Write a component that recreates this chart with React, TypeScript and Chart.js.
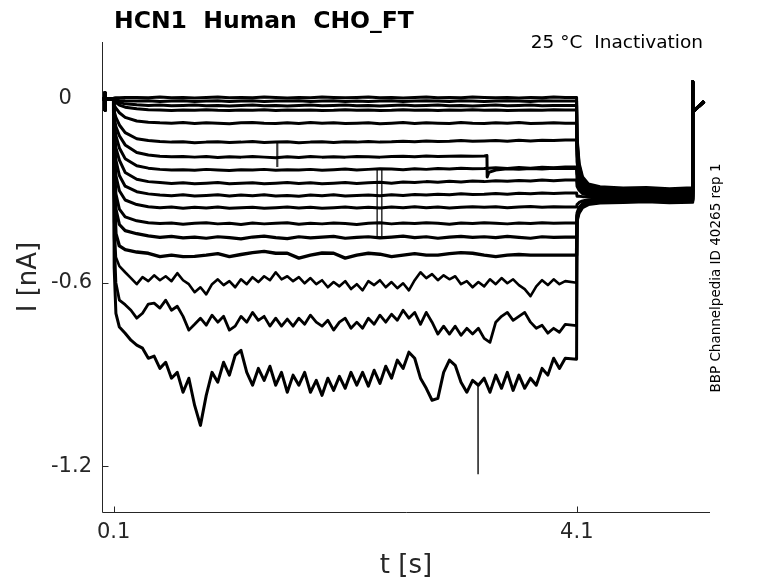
import React, { useEffect, useRef } from "react";
import { Chart, registerables } from "chart.js";

Chart.register(...registerables);

// holding segment, shared by all sweeps (s, nA)
const tHold = [0, 0.024, 0.025, 0.026, 0.027, 0.1];
const iHold = [0, 0, 0.02, -0.036, 0, 0];

// sample times for the step + tail part of every sweep
const tGrid = [
  0.1, 0.105, 0.12, 0.15, 0.2,
  0.3, 0.4, 0.5, 0.6, 0.7, 0.8, 0.9, 1.0, 1.1, 1.2,
  1.3, 1.4, 1.5, 1.6, 1.7, 1.8, 1.9, 2.0, 2.1, 2.2,
  2.3, 2.4, 2.5, 2.6, 2.7, 2.8, 2.9, 3.0, 3.1, 3.2,
  3.3, 3.4, 3.5, 3.6, 3.7, 3.8, 3.9, 4.0,
  4.098, 4.102, 4.12, 4.15, 4.2, 4.3, 4.5, 4.7, 4.9, 5.098,
];
// denser step samples for the three noisiest sweeps
const tFine = [
  0.25, 0.3, 0.35, 0.4, 0.45, 0.5, 0.55, 0.6, 0.65, 0.7,
  0.75, 0.8, 0.85, 0.9, 0.95, 1.0, 1.05, 1.1, 1.15, 1.2,
  1.25, 1.3, 1.35, 1.4, 1.45, 1.5, 1.55, 1.6, 1.65, 1.7,
  1.75, 1.8, 1.85, 1.9, 1.95, 2.0, 2.05, 2.1, 2.15, 2.2,
  2.25, 2.3, 2.35, 2.4, 2.45, 2.5, 2.55, 2.6, 2.65, 2.7,
  2.75, 2.8, 2.85, 2.9, 2.95, 3.0, 3.05, 3.1, 3.15, 3.2,
  3.25, 3.3, 3.35, 3.4, 3.45, 3.5, 3.55, 3.6, 3.65, 3.7,
  3.75, 3.8, 3.85, 3.9, 3.95, 4.0,
];
const tGridFine = [...tGrid.slice(0, 5), ...tFine, ...tGrid.slice(43)];

// end of the protocol, shared
const tEnd = [5.1, 5.1005, 5.102, 5.2];
const iEnd = [0.056, -0.045, -0.042, -0.008];

const trace01 = [
  0, 0.003, 0.004, 0.004, 0.005,
  0.005, 0.004, 0.006, 0.004, 0.005, 0.003, 0.005, 0.006, 0.004, 0.005,
  0.004, 0.006, 0.005, 0.003, 0.005, 0.004, 0.006, 0.005, 0.004, 0.005,
  0.006, 0.004, 0.005, 0.003, 0.005, 0.006, 0.004, 0.005, 0.004, 0.006,
  0.005, 0.004, 0.005, 0.003, 0.005, 0.004, 0.006, 0.005,
  0.005, -0.125, -0.21, -0.255, -0.278, -0.287, -0.291, -0.289, -0.293, -0.29,
];
const trace02 = [
  0, -0.002, -0.004, -0.005, -0.006,
  -0.007, -0.006, -0.008, -0.007, -0.006, -0.008, -0.007, -0.006, -0.008, -0.007,
  -0.006, -0.008, -0.007, -0.007, -0.006, -0.008, -0.007, -0.006, -0.008, -0.007,
  -0.008, -0.007, -0.006, -0.008, -0.007, -0.006, -0.007, -0.008, -0.006, -0.007,
  -0.008, -0.007, -0.006, -0.007, -0.008, -0.006, -0.007, -0.007,
  -0.007, -0.135, -0.218, -0.262, -0.283, -0.292, -0.296, -0.293, -0.297, -0.295,
];
const trace03 = [
  0, -0.004, -0.008, -0.012, -0.016,
  -0.019, -0.021, -0.02, -0.022, -0.021, -0.02, -0.022, -0.021, -0.023, -0.021,
  -0.02, -0.022, -0.021, -0.023, -0.021, -0.02, -0.022, -0.021, -0.02, -0.022,
  -0.021, -0.023, -0.021, -0.02, -0.022, -0.021, -0.02, -0.022, -0.021, -0.023,
  -0.021, -0.02, -0.022, -0.021, -0.02, -0.022, -0.021, -0.021,
  -0.021, -0.148, -0.228, -0.268, -0.288, -0.296, -0.3, -0.297, -0.301, -0.299,
];
const trace04 = [
  0, -0.006, -0.012, -0.02, -0.027,
  -0.032, -0.035, -0.036, -0.038, -0.036, -0.037, -0.035, -0.037, -0.038, -0.036,
  -0.037, -0.035, -0.038, -0.036, -0.037, -0.036, -0.038, -0.037, -0.035, -0.037,
  -0.036, -0.038, -0.037, -0.035, -0.037, -0.036, -0.038, -0.036, -0.037, -0.035,
  -0.037, -0.036, -0.038, -0.037, -0.036, -0.037, -0.035, -0.036,
  -0.036, -0.16, -0.236, -0.274, -0.292, -0.299, -0.303, -0.3, -0.304, -0.302,
];
const trace05 = [
  0, -0.02, -0.03, -0.045, -0.06,
  -0.072, -0.076, -0.078, -0.079, -0.077, -0.08, -0.078, -0.079, -0.081, -0.078,
  -0.077, -0.079, -0.08, -0.078, -0.08, -0.077, -0.079, -0.078, -0.08, -0.079,
  -0.078, -0.081, -0.079, -0.077, -0.08, -0.078, -0.079, -0.08, -0.077, -0.079,
  -0.08, -0.078, -0.079, -0.077, -0.08, -0.079, -0.078, -0.079,
  -0.079, -0.18, -0.248, -0.281, -0.296, -0.302, -0.306, -0.304, -0.308, -0.306,
];
const trace06 = [
  0, -0.04, -0.06, -0.085, -0.11,
  -0.13, -0.136, -0.139, -0.141, -0.14, -0.143, -0.141, -0.14, -0.142, -0.141,
  -0.139, -0.142, -0.141, -0.14, -0.143, -0.141, -0.14, -0.142, -0.14, -0.141,
  -0.139, -0.141, -0.14, -0.138, -0.14, -0.137, -0.139, -0.138, -0.136, -0.138,
  -0.137, -0.136, -0.138, -0.135, -0.137, -0.135, -0.136, -0.134,
  -0.134, -0.205, -0.26, -0.288, -0.301, -0.307, -0.31, -0.308, -0.312, -0.31,
];
const trace07 = [
  0, -0.06, -0.09, -0.12, -0.15,
  -0.175, -0.183, -0.187, -0.189, -0.188, -0.19, -0.188, -0.191, -0.189, -0.19,
  -0.188, -0.19, -0.192, -0.189, -0.191, -0.188, -0.19, -0.189, -0.19, -0.188,
  -0.189, -0.19, -0.188, -0.187, -0.189, -0.186, -0.188, -0.187, -0.186, -0.187,
  -0.186, -0.232, -0.228, -0.23, -0.227, -0.229, -0.226, -0.227,
  -0.227, -0.245, -0.272, -0.294, -0.305, -0.31, -0.313, -0.311, -0.314, -0.312,
];
const trace08 = [
  0, -0.08, -0.12, -0.16, -0.195,
  -0.218, -0.226, -0.23, -0.232, -0.231, -0.233, -0.23, -0.232, -0.234, -0.231,
  -0.232, -0.23, -0.233, -0.231, -0.232, -0.23, -0.233, -0.231, -0.229, -0.232,
  -0.23, -0.228, -0.229, -0.231, -0.228, -0.23, -0.227, -0.229, -0.226, -0.228,
  -0.227, -0.225, -0.227, -0.224, -0.226, -0.223, -0.225, -0.222,
  -0.222, -0.262, -0.287, -0.303, -0.31, -0.315, -0.318, -0.316, -0.319, -0.317,
];
const trace09 = [
  0, -0.1, -0.16, -0.2, -0.24,
  -0.262, -0.27, -0.273, -0.276, -0.274, -0.277, -0.275, -0.273, -0.277, -0.275,
  -0.274, -0.277, -0.275, -0.273, -0.276, -0.274, -0.277, -0.275, -0.273, -0.276,
  -0.274, -0.272, -0.275, -0.271, -0.273, -0.27, -0.272, -0.269, -0.271, -0.268,
  -0.27, -0.267, -0.269, -0.266, -0.268, -0.265, -0.267, -0.265,
  -0.265, -0.285, -0.298, -0.309, -0.314, -0.318, -0.32, -0.318, -0.322, -0.319,
];
const trace10 = [
  0, -0.13, -0.2, -0.25, -0.285,
  -0.303, -0.31, -0.314, -0.316, -0.313, -0.317, -0.315, -0.313, -0.317, -0.314,
  -0.316, -0.313, -0.317, -0.315, -0.318, -0.314, -0.316, -0.313, -0.317, -0.315,
  -0.314, -0.316, -0.313, -0.315, -0.312, -0.314, -0.311, -0.313, -0.31, -0.312,
  -0.311, -0.309, -0.311, -0.308, -0.31, -0.307, -0.309, -0.307,
  -0.307, -0.318, -0.318, -0.319, -0.319, -0.321, -0.323, -0.321, -0.324, -0.322,
];
const trace11 = [
  0, -0.16, -0.25, -0.3, -0.33,
  -0.345, -0.352, -0.355, -0.353, -0.357, -0.354, -0.356, -0.353, -0.357, -0.355,
  -0.354, -0.357, -0.355, -0.353, -0.356, -0.354, -0.357, -0.355, -0.353, -0.356,
  -0.354, -0.356, -0.353, -0.355, -0.352, -0.355, -0.353, -0.356, -0.354, -0.352,
  -0.354, -0.352, -0.355, -0.353, -0.351, -0.354, -0.352, -0.353,
  -0.353, -0.345, -0.338, -0.333, -0.329, -0.326, -0.325, -0.324, -0.327, -0.325,
];
const trace12 = [
  0, -0.2, -0.31, -0.36, -0.385,
  -0.398, -0.404, -0.407, -0.405, -0.409, -0.406, -0.404, -0.408, -0.406, -0.41,
  -0.405, -0.408, -0.406, -0.404, -0.409, -0.406, -0.408, -0.405, -0.407, -0.41,
  -0.406, -0.404, -0.408, -0.405, -0.407, -0.404, -0.406, -0.409, -0.405, -0.407,
  -0.404, -0.406, -0.408, -0.405, -0.407, -0.404, -0.406, -0.405,
  -0.405, -0.372, -0.354, -0.342, -0.335, -0.33, -0.328, -0.327, -0.329, -0.327,
];
const trace13 = [
  0, -0.25, -0.36, -0.41, -0.43,
  -0.44, -0.447, -0.452, -0.449, -0.454, -0.451, -0.455, -0.45, -0.453, -0.457,
  -0.451, -0.448, -0.453, -0.456, -0.45, -0.454, -0.451, -0.449, -0.455, -0.452,
  -0.45, -0.454, -0.451, -0.448, -0.453, -0.45, -0.455, -0.451, -0.449, -0.452,
  -0.45, -0.453, -0.449, -0.452, -0.455, -0.45, -0.452, -0.451,
  -0.451, -0.38, -0.358, -0.344, -0.337, -0.332, -0.33, -0.328, -0.331, -0.329,
];
const trace14 = [
  0, -0.3, -0.44, -0.48, -0.492,
  -0.5, -0.504, -0.515, -0.51, -0.515, -0.514, -0.51, -0.505, -0.515, -0.508,
  -0.502, -0.498, -0.504, -0.504, -0.52, -0.51, -0.503, -0.504, -0.52, -0.51,
  -0.504, -0.507, -0.515, -0.51, -0.505, -0.51, -0.51, -0.505, -0.502, -0.504,
  -0.51, -0.515, -0.51, -0.508, -0.51, -0.51, -0.51, -0.51,
  -0.51, -0.385, -0.363, -0.347, -0.339, -0.334, -0.332, -0.33, -0.333, -0.331,
];
// sweeps 15-17 follow tGridFine
const trace15 = [
  0, -0.4, -0.517, -0.546, -0.566,
  -0.585, -0.605, -0.582, -0.595, -0.576, -0.592, -0.579, -0.595, -0.569, -0.592,
  -0.605, -0.631, -0.615, -0.638, -0.605, -0.589, -0.608, -0.595, -0.615, -0.589,
  -0.605, -0.582, -0.598, -0.579, -0.592, -0.566, -0.589, -0.579, -0.595, -0.582,
  -0.602, -0.585, -0.605, -0.592, -0.615, -0.598, -0.612, -0.595, -0.621, -0.605,
  -0.625, -0.595, -0.608, -0.592, -0.615, -0.598, -0.618, -0.602, -0.625, -0.592,
  -0.566, -0.585, -0.572, -0.592, -0.576, -0.589, -0.579, -0.605, -0.595, -0.615,
  -0.598, -0.612, -0.589, -0.605, -0.585, -0.602, -0.589, -0.608, -0.621, -0.644,
  -0.612, -0.592, -0.608, -0.589, -0.605, -0.595,
  -0.6, -0.39, -0.366, -0.35, -0.341, -0.336, -0.334, -0.332, -0.335, -0.333,
];
const trace16 = [
  0, -0.45, -0.6, -0.657, -0.672,
  -0.69, -0.716, -0.7, -0.67, -0.667, -0.683, -0.657, -0.69, -0.677, -0.71,
  -0.755, -0.736, -0.716, -0.739, -0.706, -0.729, -0.71, -0.755, -0.742, -0.71,
  -0.729, -0.697, -0.723, -0.71, -0.742, -0.716, -0.742, -0.719, -0.742, -0.716,
  -0.736, -0.706, -0.729, -0.742, -0.723, -0.755, -0.729, -0.716, -0.749, -0.729,
  -0.749, -0.716, -0.736, -0.706, -0.729, -0.703, -0.723, -0.69, -0.716, -0.697,
  -0.736, -0.697, -0.729, -0.768, -0.742, -0.768, -0.742, -0.772, -0.749, -0.768,
  -0.749, -0.782, -0.795, -0.729, -0.71, -0.697, -0.723, -0.71, -0.697, -0.729,
  -0.749, -0.739, -0.765, -0.749, -0.762, -0.736,
  -0.74, -0.395, -0.37, -0.352, -0.343, -0.338, -0.336, -0.334, -0.337, -0.335,
];
const trace17 = [
  0, -0.55, -0.7, -0.745, -0.765,
  -0.788, -0.804, -0.814, -0.847, -0.84, -0.88, -0.86, -0.912, -0.893, -0.958,
  -0.912, -1.001, -1.066, -0.968, -0.893, -0.925, -0.86, -0.902, -0.837, -0.821,
  -0.893, -0.935, -0.88, -0.919, -0.873, -0.935, -0.893, -0.958, -0.902, -0.935,
  -0.893, -0.958, -0.919, -0.968, -0.912, -0.952, -0.906, -0.945, -0.893, -0.935,
  -0.893, -0.938, -0.886, -0.929, -0.873, -0.912, -0.853, -0.88, -0.827, -0.847,
  -0.912, -0.945, -0.984, -0.978, -0.893, -0.853, -0.87, -0.925, -0.958, -0.919,
  -0.935, -0.912, -0.958, -0.902, -0.945, -0.893, -0.952, -0.902, -0.945, -0.912,
  -0.935, -0.88, -0.902, -0.847, -0.88, -0.847,
  -0.85, -0.4, -0.373, -0.355, -0.345, -0.34, -0.338, -0.336, -0.339, -0.337,
];

// level jump in sweep 7 (part of the sweep)
const jump07T = [3.324, 3.326, 3.34];
const jump07I = [-0.185, -0.255, -0.24];

// brief single-sample glitches, drawn as thin strokes
const glitch06T = [1.511, 1.511, 1.516, 1.516];
const glitch06I = [-0.14, -0.22, -0.22, -0.14];
const glitch08T = [2.376, 2.376, 2.416, 2.416];
const glitch08I = [-0.228, -0.451, -0.451, -0.228];
const glitch17T = [3.246, 3.247, 3.248];
const glitch17I = [-0.93, -1.223, -0.93];

const sweeps = [
  trace01, trace02, trace03, trace04, trace05, trace06, trace07, trace08, trace09,
  trace10, trace11, trace12, trace13, trace14, trace15, trace16, trace17,
];
const sweepTimes = sweeps.map((_, i) => (i >= 14 ? tGridFine : tGrid));
// noise band gets wider for the larger currents
const sweepWidths = [3, 3, 3, 3, 3, 3, 3, 3, 3, 3, 3, 3, 3.2, 3.4, 2.6, 2.8, 3];
const glitchT = [glitch06T, glitch08T, glitch17T];
const glitchI = [glitch06I, glitch08I, glitch17I];

const xTicks = [0.1, 4.1];
const xTickLabels = ["0.1", "4.1"];
const yTicks = [0, -0.6, -1.2];
const yTickLabels = ["0   ", "-0.6", "-1.2"]; // padded like the original char matrix

const FONT = '"DejaVu Sans", sans-serif';
const AXIS = "#262626";

function buildSweep(idx: number) {
  const values = sweeps[idx];
  const times = sweepTimes[idx];
  const pts: { x: number; y: number }[] = [];
  tHold.forEach((t, i) => pts.push({ x: t, y: iHold[i] }));
  times.forEach((t, i) => pts.push({ x: t, y: values[i] }));
  if (idx === 6) jump07T.forEach((t, i) => pts.push({ x: t, y: jump07I[i] }));
  tEnd.forEach((t, i) => pts.push({ x: t, y: iEnd[i] }));
  pts.sort((a, b) => a.x - b.x);
  return pts;
}

const axesPlugin = {
  id: "matlabAxes",
  beforeDatasetsDraw(chart: any) {
    const { ctx, chartArea: a, scales } = chart;
    const L = Math.round(a.left) + 0.5;
    const B = Math.round(a.bottom) + 0.5;
    ctx.save();
    ctx.strokeStyle = AXIS;
    ctx.lineWidth = 1;
    ctx.beginPath();
    ctx.moveTo(L, a.top);
    ctx.lineTo(L, B);
    ctx.lineTo(a.right, B);
    yTicks.forEach((v) => {
      const y = Math.round(scales.y.getPixelForValue(v)) + 0.5;
      ctx.moveTo(L, y);
      ctx.lineTo(L + 6, y);
    });
    xTicks.forEach((v) => {
      const x = Math.round(scales.x.getPixelForValue(v)) + 0.5;
      ctx.moveTo(x, B);
      ctx.lineTo(x, B - 6);
    });
    ctx.stroke();
    ctx.restore();
  },
  afterDraw(chart: any) {
    const { ctx, chartArea: a, scales } = chart;
    ctx.save();
    ctx.fillStyle = AXIS;
    ctx.font = `21px ${FONT}`;
    ctx.textAlign = "right";
    ctx.textBaseline = "middle";
    yTicks.forEach((v, i) => {
      ctx.fillText(yTickLabels[i], a.left - 10, scales.y.getPixelForValue(v));
    });
    ctx.textAlign = "center";
    xTicks.forEach((v, i) => {
      ctx.fillText(xTickLabels[i], scales.x.getPixelForValue(v), a.bottom + 21);
    });

    ctx.font = `26px ${FONT}`;
    ctx.fillText("t [s]", (a.left + a.right) / 2, 566);
    ctx.save();
    ctx.translate(29, (a.top + a.bottom) / 2);
    ctx.rotate(-Math.PI / 2);
    ctx.fillText("I [nA]", 0, 0);
    ctx.restore();

    ctx.fillStyle = "#000";
    ctx.font = `bold 23.5px ${FONT}`;
    ctx.textAlign = "left";
    ctx.textBaseline = "alphabetic";
    ctx.fillText("HCN1  Human  CHO_FT", 114, 28);

    ctx.font = `18.5px ${FONT}`;
    ctx.textAlign = "right";
    ctx.fillText("25 °C  Inactivation", 703, 48);

    ctx.font = `13.5px ${FONT}`;
    ctx.textAlign = "center";
    ctx.textBaseline = "middle";
    ctx.save();
    ctx.translate(716, 278);
    ctx.rotate(-Math.PI / 2);
    ctx.fillText("BBP Channelpedia ID 40265 rep 1", 0, 0);
    ctx.restore();
    ctx.restore();
  },
};

export default function App() {
  const canvasRef = useRef<HTMLCanvasElement>(null);
  const chartRef = useRef<Chart | null>(null);

  useEffect(() => {
    document.body.style.margin = "0";
    if (!canvasRef.current) return;
    if (chartRef.current) chartRef.current.destroy();

    const datasets: any[] = sweeps.map((_, i) => ({
      data: buildSweep(i),
      borderColor: "#000",
      borderWidth: sweepWidths[i],
      borderJoinStyle: "round",
      pointRadius: 0,
      tension: 0,
      fill: false,
    }));
    glitchT.forEach((ts, g) => {
      datasets.push({
        data: ts.map((t, i) => ({ x: t, y: glitchI[g][i] })),
        borderColor: "#3a3a3a",
        borderWidth: 1.6,
        pointRadius: 0,
        tension: 0,
        fill: false,
      });
    });

    chartRef.current = new Chart(canvasRef.current, {
      type: "line",
      data: { datasets },
      options: {
        responsive: false,
        animation: false,
        parsing: false,
        layout: { padding: { left: 102, right: 68, top: 42, bottom: 71 } },
        scales: {
          x: { type: "linear", min: 0, max: 5.25, display: false },
          y: { type: "linear", min: -1.349, max: 0.186, display: false },
        },
        plugins: {
          legend: { display: false },
          tooltip: { enabled: false },
        },
      },
      plugins: [axesPlugin],
    } as any);

    return () => {
      if (chartRef.current) {
        chartRef.current.destroy();
        chartRef.current = null;
      }
    };
  }, []);

  return (
    <div style={{ width: 778, height: 583, background: "#fff" }}>
      <canvas ref={canvasRef} width={778} height={583} />
    </div>
  );
}
